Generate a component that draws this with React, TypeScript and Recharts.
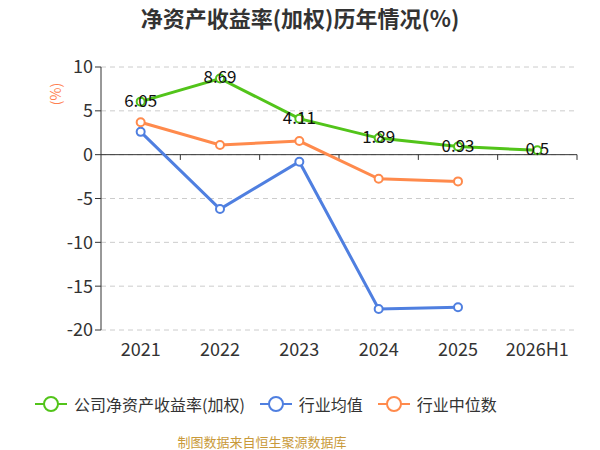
import React from 'react';
import { LineChart, Line, XAxis, YAxis, CartesianGrid, ReferenceLine } from 'recharts';

const years = ['2021', '2022', '2023', '2024', '2025', '2026H1'];
const companyRoe = [6.05, 8.69, 4.11, 1.89, 0.93, 0.5];
const industryAvg = [2.6, -6.2, -0.8, -17.6, -17.4, null];
const industryMedian = [3.7, 1.1, 1.55, -2.75, -3.05, null];
const yTicks = [-20, -15, -10, -5, 0, 5, 10];
const xTicks = [0.5, 1.5, 2.5, 3.5, 4.5, 5.5];
const boundaries = [1, 2, 3, 4, 5, 6];

const data = years.map((year, i) => ({
    year,
    idx: i + 0.5,
    company: companyRoe[i],
    avg: industryAvg[i],
    median: industryMedian[i],
}));

const FONT = '"Noto Sans CJK SC", "Noto Sans", sans-serif';

const legendItems = [
    { label: '公司净资产收益率(加权)', color: '#52c41a' },
    { label: '行业均值', color: '#4f7fe0' },
    { label: '行业中位数', color: '#ff8a4c' },
];

const renderValueLabel = (props: any) => {
    const { x, y, value } = props;
    return (
        <text x={x} y={y} dy={5} textAnchor="middle" fill="#111" fontSize={17} fontFamily={FONT}>
            {value}
        </text>
    );
};

export default function App() {
    return (
        <div style={{ position: 'absolute', left: 0, top: 0, width: 600, height: 450, background: '#fff', fontFamily: FONT }}>
            <div style={{ position: 'absolute', top: 0, width: 600, height: 34, lineHeight: '34px', textAlign: 'center', fontSize: 22, fontWeight: 'bold', color: '#333' }}>
                净资产收益率(加权)历年情况(%)
            </div>
            <div style={{ position: 'absolute', left: 44, top: 84, fontSize: 14, color: '#ff7f50', transform: 'rotate(-90deg)', transformOrigin: 'center' }}>
                (%)
            </div>
            <LineChart width={600} height={450} data={data} margin={{ top: 67, right: 23, left: 41, bottom: 0 }}>
                <CartesianGrid vertical={false} stroke="#ccc" strokeDasharray="5 4" />
                <XAxis dataKey="idx" type="number" domain={[0, 6]} ticks={xTicks} interval={0}
                    tickFormatter={(v: number) => years[Math.floor(v)]}
                    axisLine={false} tickLine={false} tickMargin={7} height={120}
                    tick={{ fill: '#333', fontSize: 18, fontFamily: FONT }} />
                <YAxis domain={[-20, 10]} ticks={yTicks} width={60} interval={0}
                    axisLine={{ stroke: '#333' }} tickLine={{ stroke: '#333' }} tickSize={6} tickMargin={2}
                    tick={{ fill: '#333', fontSize: 18, fontFamily: FONT }} />
                <ReferenceLine y={0} stroke="#333" />
                {boundaries.map((b) => (
                    <ReferenceLine key={b} stroke="#333" ifOverflow="visible"
                        segment={[{ x: b, y: 0 }, { x: b, y: -0.6 }]} />
                ))}
                <Line dataKey="company" stroke="#52c41a" strokeWidth={3} isAnimationActive={false}
                    dot={{ r: 4, fill: '#fff', stroke: '#52c41a', strokeWidth: 2 }} label={renderValueLabel} />
                <Line dataKey="avg" stroke="#4f7fe0" strokeWidth={3} isAnimationActive={false}
                    dot={{ r: 4, fill: '#fff', stroke: '#4f7fe0', strokeWidth: 2 }} />
                <Line dataKey="median" stroke="#ff8a4c" strokeWidth={3} isAnimationActive={false}
                    dot={{ r: 4, fill: '#fff', stroke: '#ff8a4c', strokeWidth: 2 }} />
            </LineChart>
            <div style={{ position: 'absolute', top: 392, left: 35, display: 'flex', alignItems: 'center', fontSize: 16, color: '#333' }}>
                {legendItems.map((item) => (
                    <div key={item.label} style={{ display: 'flex', alignItems: 'center', marginRight: 15 }}>
                        <svg width={32} height={18} style={{ marginRight: 7 }}>
                            <line x1={0} y1={9} x2={32} y2={9} stroke={item.color} strokeWidth={2} />
                            <circle cx={16} cy={9} r={7} fill="#fff" stroke={item.color} strokeWidth={2} />
                        </svg>
                        <span>{item.label}</span>
                    </div>
                ))}
            </div>
            <div style={{ position: 'absolute', top: 432, left: 0, width: 524, textAlign: 'center', fontSize: 13, color: '#c99a3a' }}>
                制图数据来自恒生聚源数据库
            </div>
        </div>
    );
}
